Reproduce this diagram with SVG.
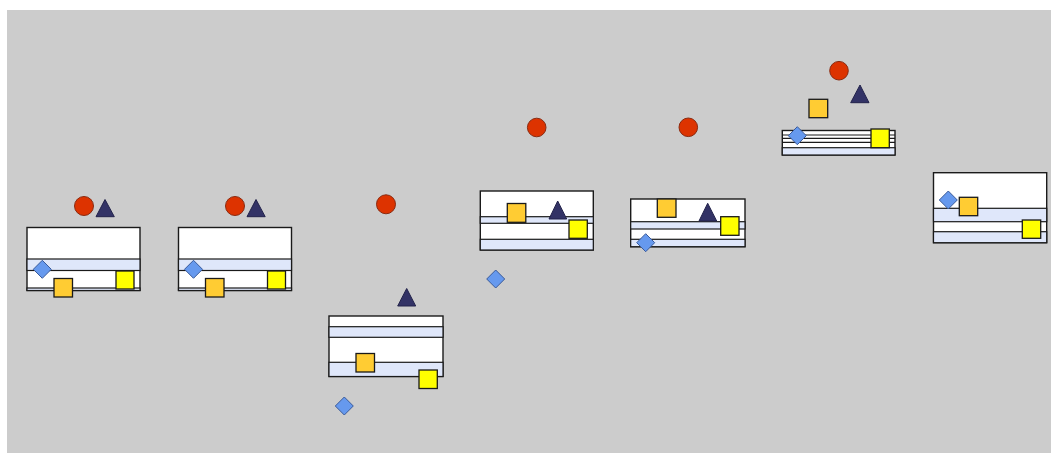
<svg xmlns="http://www.w3.org/2000/svg" width="1051" height="453" viewBox="0 0 1051 453">
<style>
.bg{fill:#cccccc}
.box{fill:#ffffff;stroke:#1a1a1a;stroke-width:1.4}
.band{fill:#dfe7fa;stroke:#1a1a1a;stroke-width:1.2}
.ln{stroke:#1a1a1a;stroke-width:1.2;fill:none}
.cir{fill:#dd3300;stroke:#8a2a10;stroke-width:1}
.tri{fill:#333366;stroke:#22224a;stroke-width:1}
.dia{fill:#6699ee;stroke:#3a5a99;stroke-width:1}
.org{fill:#ffcc33;stroke:#1a1a1a;stroke-width:1.3}
.yel{fill:#ffff00;stroke:#1a1a1a;stroke-width:1.3}
</style>
<rect class="bg" x="7" y="10" width="1044" height="443"/>
<g id="connectors"></g>

<g id="node1">
<rect class="box" x="27" y="227.5" width="113" height="63"/>
<rect class="band" x="27" y="259" width="113" height="11.5"/>
<rect class="band" x="27" y="288" width="113" height="2.5"/>
<circle class="cir" cx="84" cy="206" r="9.5"/>
<polygon class="tri" points="105,199.5 114.3,216.7 96,216.7"/>
<polygon class="dia" points="42.3,260.3 51.3,269.3 42.3,278.3 33.3,269.3"/>
<rect class="org" x="54" y="278.5" width="18.5" height="18.5"/>
<rect class="yel" x="116" y="271" width="18" height="18"/>
</g>

<g id="node2">
<rect class="box" x="178.5" y="227.5" width="113" height="63"/>
<rect class="band" x="178.5" y="259" width="113" height="11.5"/>
<rect class="band" x="178.5" y="288" width="113" height="2.5"/>
<circle class="cir" cx="235" cy="206" r="9.5"/>
<polygon class="tri" points="256,199.5 265.2,216.7 247,216.7"/>
<polygon class="dia" points="193.5,260.3 202.5,269.3 193.5,278.3 184.5,269.3"/>
<rect class="org" x="205.5" y="278.5" width="18.5" height="18.5"/>
<rect class="yel" x="267.5" y="271" width="18" height="18"/>
</g>

<g id="node3">
<rect class="box" x="329" y="316" width="114" height="60.5"/>
<rect class="band" x="329" y="326.7" width="114" height="10.6"/>
<rect class="band" x="329" y="362.3" width="114" height="14.2"/>
<circle class="cir" cx="386" cy="204.3" r="9.5"/>
<polygon class="tri" points="406.7,288.5 415.7,306 397.7,306"/>
<polygon class="dia" points="344.3,397 353.3,406 344.3,415 335.3,406"/>
<rect class="org" x="356" y="353.5" width="18.5" height="18.5"/>
<rect class="yel" x="419" y="370" width="18.3" height="18.5"/>
</g>

<g id="node4">
<rect class="box" x="480.3" y="191" width="113" height="59"/>
<rect class="band" x="480.3" y="216.7" width="113" height="6.6"/>
<rect class="band" x="480.3" y="239.3" width="113" height="10.7"/>
<circle class="cir" cx="536.7" cy="127.5" r="9.3"/>
<polygon class="tri" points="557.7,201 566.7,219 549,219"/>
<polygon class="dia" points="495.7,270 504.7,279 495.7,288 486.7,279"/>
<rect class="org" x="507.3" y="203.5" width="18.5" height="18.8"/>
<rect class="yel" x="569" y="220" width="18.3" height="18.3"/>
</g>

<g id="node5">
<rect class="box" x="630.7" y="199" width="114.3" height="47.7"/>
<rect class="band" x="630.7" y="221.7" width="114.3" height="7.3"/>
<rect class="band" x="630.7" y="239.3" width="114.3" height="7.4"/>
<circle class="cir" cx="688.3" cy="127.3" r="9.3"/>
<polygon class="tri" points="707.7,203.3 716.7,221 699,221"/>
<polygon class="dia" points="645.7,233.7 654.7,242.7 645.7,251.7 636.7,242.7"/>
<rect class="org" x="657.3" y="199" width="18.7" height="18.3"/>
<rect class="yel" x="720.7" y="216.7" width="18.3" height="18.6"/>
</g>

<g id="node6">
<rect class="box" x="782.3" y="130.5" width="112.7" height="24.5"/>
<line class="ln" x1="782.3" y1="135" x2="895" y2="135"/>
<line class="ln" x1="782.3" y1="138.3" x2="895" y2="138.3"/>
<line class="ln" x1="782.3" y1="142.3" x2="895" y2="142.3"/>
<rect class="band" x="782.3" y="147.7" width="112.7" height="7.3"/>
<circle class="cir" cx="839" cy="70.7" r="9.3"/>
<polygon class="tri" points="860,85 869,102.7 850.7,102.7"/>
<polygon class="dia" points="797.3,126.7 806.3,135.7 797.3,144.7 788.3,135.7"/>
<rect class="org" x="809" y="99.3" width="18.7" height="18.4"/>
<rect class="yel" x="871" y="129" width="18.3" height="18.7"/>
</g>

<g id="node7">
<rect class="box" x="933.5" y="172.7" width="113.2" height="70"/>
<rect class="band" x="933.5" y="208.3" width="113.2" height="13.4"/>
<rect class="band" x="933.5" y="231.7" width="113.2" height="11"/>
<polygon class="dia" points="948.3,191 957.3,200 948.3,209 939.3,200"/>
<rect class="org" x="959.3" y="197.3" width="18.4" height="18.4"/>
<rect class="yel" x="1022.3" y="220" width="18.4" height="18.3"/>
</g>
</svg>
